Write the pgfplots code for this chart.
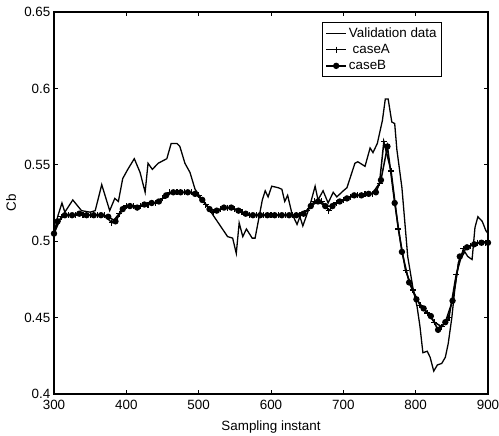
\documentclass[border=0pt]{standalone}
\usepackage{fontspec}
\setmainfont{Liberation Sans}
\usepackage{pgfplots}
\pgfplotsset{compat=1.18}
\begin{document}
\fontsize{13.4bp}{16bp}\selectfont
\begin{tikzpicture}
\path[use as bounding box] (-54bp,-42bp) rectangle (445bp,394bp);
\begin{axis}[
  at={(0,0)}, anchor=south west,
  scale only axis, width=434bp, height=382bp,
  xmin=300, xmax=900, ymin=0.4, ymax=0.65,
  xtick={300,400,...,900},
  ytick={0.4,0.45,0.5,0.55,0.6,0.65},
  yticklabels={0.4,0.45,0.5,0.55,0.6,0.65},
  xticklabels={300,400,500,600,700,800,900},
  tick align=inside, tick pos=both,
  major tick length=4bp,
  axis line style={line width=1.1pt},
  every tick/.style={line width=1.0pt, black},
  ticklabel style={font=\fontsize{13.4bp}{16bp}\selectfont},
  xticklabel style={yshift=-1bp},
  yticklabel style={xshift=1bp},
  xlabel={Sampling instant},
  ylabel={Cb},
  every axis x label/.style={at={(axis description cs:0.5,-0.0864)}, anchor=center},
  every axis y label/.style={at={(axis description cs:-0.099,0.5)}, anchor=center, rotate=90},
  legend style={at={(0.894,0.974)}, anchor=north east, draw=black, line width=0.8pt,
    font=\fontsize{13.4bp}{16bp}\selectfont, inner xsep=3bp, inner ysep=3bp,
    row sep=1bp, cells={anchor=west}},
  legend image code/.code={\draw[#1, mark repeat=2, mark phase=2] plot coordinates {(0bp,0bp) (10bp,0bp) (20bp,0bp)};},
]
\addplot[black, line width=1.3pt, mark=none] coordinates {
(300,0.504) (305,0.516) (311,0.525) (315,0.519) (326,0.527) (338,0.520) (350,0.519)
(357,0.520) (366,0.537) (377,0.520) (384,0.528) (389,0.526) (395,0.541) (402,0.547)
(411,0.554) (419,0.545) (426,0.532) (430,0.551) (436,0.547) (444,0.551) (456,0.554)
(462,0.564) (470,0.564) (474,0.562) (481,0.551) (488,0.545) (495,0.534) (505,0.527)
(513,0.522) (520,0.517) (530,0.510) (540,0.503) (547,0.502) (552,0.492) (556,0.512)
(561,0.503) (566,0.508) (574,0.502) (578,0.502) (588,0.527) (592,0.533) (596,0.529)
(601,0.536) (610,0.535) (615,0.534) (619,0.526) (623,0.530) (629,0.518) (636,0.511)
(640,0.516) (644,0.510) (653,0.522) (661,0.536) (665,0.527) (672,0.533) (679,0.525)
(686,0.532) (691,0.529) (700,0.533) (705,0.535) (716,0.551) (720,0.552) (730,0.549)
(737,0.561) (741,0.558) (747,0.564) (754,0.579) (758,0.593) (762,0.593) (767,0.578)
(771,0.577) (774,0.560) (781,0.535) (789,0.490) (796,0.470) (802,0.457) (806,0.444)
(810,0.427) (816,0.428) (820,0.424) (825,0.415) (830,0.419) (836,0.420) (841,0.424)
(845,0.433) (850,0.450) (854,0.468) (859,0.486) (864,0.490) (868,0.493) (872,0.490)
(878,0.488) (882,0.509) (886,0.516) (892,0.513) (897,0.507) (900,0.505)
};
\addlegendentry{Validation data}
\addplot[black, line width=1.5pt, mark=+, mark size=3bp, mark options={line width=1.2pt}] coordinates {
(300,0.505) (310,0.516) (320,0.517) (330,0.517) (340,0.517) (350,0.517) (360,0.517)
(370,0.517) (380,0.512) (390,0.518) (400,0.523) (410,0.523) (420,0.523) (430,0.524)
(440,0.525) (450,0.528) (460,0.532) (470,0.532) (480,0.532) (490,0.532) (500,0.530)
(510,0.524) (520,0.519) (530,0.521) (540,0.522) (550,0.521) (560,0.519) (570,0.517)
(580,0.517) (590,0.517) (600,0.517) (610,0.517) (620,0.517) (630,0.517) (640,0.517)
(650,0.520) (660,0.526) (670,0.526) (680,0.520) (690,0.525) (700,0.527) (710,0.529)
(720,0.530) (730,0.531) (740,0.531) (750,0.538) (756,0.565) (766,0.546) (776,0.508)
(786,0.481) (796,0.468) (806,0.458) (816,0.453) (826,0.447) (836,0.444) (846,0.450)
(856,0.478) (866,0.495) (876,0.497) (886,0.499) (896,0.499) (900,0.499)
};
\addlegendentry{\ caseA}
\addplot[black, line width=1.5pt, mark=*, mark size=2.4bp] coordinates {
(300,0.505) (305,0.513) (315,0.517) (325,0.517) (335,0.518) (345,0.517) (355,0.517)
(365,0.517) (375,0.516) (385,0.513) (395,0.521) (405,0.523) (415,0.522) (425,0.524)
(435,0.525) (445,0.526) (455,0.530) (465,0.532) (475,0.532) (485,0.532) (495,0.531)
(505,0.527) (515,0.521) (525,0.520) (535,0.522) (545,0.522) (555,0.520) (565,0.518)
(575,0.517) (585,0.517) (595,0.517) (605,0.517) (615,0.517) (625,0.517) (635,0.517)
(645,0.518) (655,0.523) (665,0.526) (675,0.523) (685,0.523) (695,0.526) (705,0.528)
(715,0.530) (725,0.530) (735,0.531) (745,0.532) (752,0.540) (761,0.562) (771,0.525)
(781,0.493) (791,0.473) (801,0.462) (811,0.456) (821,0.451) (831,0.442) (841,0.447)
(851,0.461) (861,0.490) (871,0.496) (881,0.498) (891,0.499) (900,0.499)
};
\addlegendentry{caseB}
\end{axis}
\end{tikzpicture}
\end{document}
